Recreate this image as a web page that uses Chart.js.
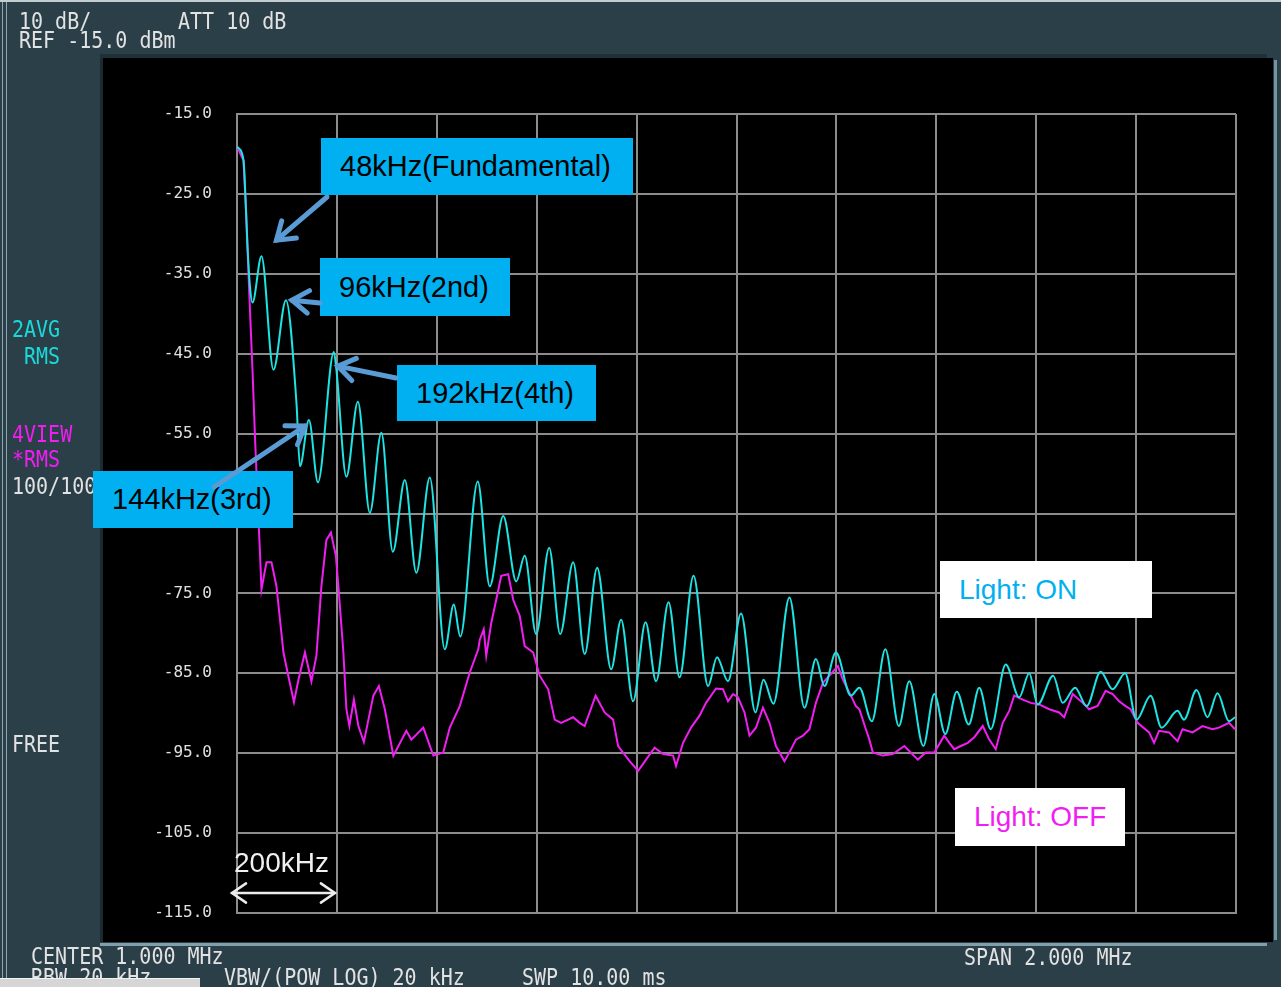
<!DOCTYPE html>
<html>
<head>
<meta charset="utf-8">
<title>Spectrum - Light ON / OFF</title>
<script src="https://cdn.jsdelivr.net/npm/chart.js@4.4.1/dist/chart.umd.min.js"></script>
<style>
  body { margin: 0; background: #2b3f49; }
  #screen { position: relative; width: 1281px; height: 987px; overflow: hidden; background: #2b3f49; }
  .rule { position: absolute; }
  #panel { position: absolute; left: 103px; top: 58px; width: 1170px; height: 884px; background: #000; }
  #chart { position: absolute; left: 0; top: 0; }
  .inst { position: absolute; font: 20px 'DejaVu Sans Mono', monospace; line-height: 20px; color: #e2e2e2;
          white-space: pre; transform: scaleY(1.15); transform-origin: 0 0; }
  .cyan { color: #19dada; }
  .mag { color: #f01ef0; }
  .tag { position: absolute; display: flex; align-items: center; box-sizing: border-box; padding-left: 19px;
         font: 29px 'Liberation Sans', Arial, sans-serif; white-space: nowrap; }
  .blue { background: #00b0f0; color: #000; }
  .white { background: #fff; }
  #marks { position: absolute; left: 0; top: 0; }
</style>
</head>
<body>
<div id="screen">
  <!-- instrument frame -->
  <div class="rule" style="left:0;top:0;width:1281px;height:2px;background:#c3ccd0"></div>
  <div class="rule" style="left:2px;top:2px;width:1px;height:976px;background:#8fa9b2"></div>
  <div class="rule" style="left:6px;top:2px;width:1px;height:976px;background:#8fa9b2"></div>
  <div class="rule" style="left:100px;top:54px;width:1167px;height:4px;background:#1f3038"></div>
  <div class="rule" style="left:100px;top:58px;width:3px;height:884px;background:#1a2a30"></div>
  <div id="panel"></div>
  <div class="rule" style="left:1274px;top:60px;width:3px;height:880px;background:#7395a0"></div>
  <div class="rule" style="left:100px;top:943px;width:1167px;height:3px;background:#7f9faa"></div>

  <canvas id="chart" width="1281" height="987" style="width:1281px;height:987px"></canvas>

  <!-- instrument readouts -->
  <div class="inst" style="left:19px;top:9px">10 dB/</div>
  <div class="inst" style="left:178px;top:9px">ATT 10 dB</div>
  <div class="inst" style="left:19px;top:28px">REF -15.0 dBm</div>
  <div class="inst cyan" style="left:12px;top:317px">2AVG</div>
  <div class="inst cyan" style="left:24px;top:344px">RMS</div>
  <div class="inst mag" style="left:12px;top:422px">4VIEW</div>
  <div class="inst mag" style="left:12px;top:447px">*RMS</div>
  <div class="inst" style="left:12px;top:474px">100/100</div>
  <div class="inst" style="left:12px;top:732px">FREE</div>
  <div class="inst" style="left:31px;top:944px">CENTER 1.000 MHz</div>
  <div class="inst" style="left:964px;top:945px">SPAN 2.000 MHz</div>
  <div class="inst" style="left:31px;top:965px">RBW 20 kHz</div>
  <div class="inst" style="left:224px;top:965px">VBW/(POW LOG) 20 kHz</div>
  <div class="inst" style="left:522px;top:965px">SWP 10.00 ms</div>
  <div class="rule" style="left:0;top:978px;width:200px;height:9px;background:#d6d6d6;border-top:1px solid #f2f2f2"></div>

  <!-- callouts -->
  <div class="tag blue" style="left:321px;top:138px;width:312px;height:57px">48kHz(Fundamental)</div>
  <div class="tag blue" style="left:320px;top:258px;width:190px;height:58px">96kHz(2nd)</div>
  <div class="tag blue" style="left:397px;top:365px;width:199px;height:56px">192kHz(4th)</div>
  <div class="tag blue" style="left:93px;top:471px;width:200px;height:57px">144kHz(3rd)</div>
  <div class="tag white" style="left:940px;top:561px;width:212px;height:57px;color:#00b0f0;font-size:28px">Light: ON</div>
  <div class="tag white" style="left:955px;top:788px;width:170px;height:58px;color:#f01ef0;font-size:28px">Light: OFF</div>
  <div class="tag" style="left:234px;top:845px;height:36px;padding-left:0;color:#f0f0f0;font-size:28px">200kHz</div>

  <svg id="marks" width="1281" height="987"></svg>
</div>

<script>
// frequency in kHz (0 .. 2000 span), level in dBm
const freqOn = [0, 13, 18, 21, 26, 31, 49, 73, 98, 119, 126, 144, 162, 194, 199, 219, 242, 266, 289, 312,
  336, 359, 386, 416, 434, 447, 482, 506, 533, 559, 576, 599, 625, 647, 673, 696, 721, 749, 769, 793,
  818, 839, 864, 886, 914, 943, 961, 983, 1009, 1038, 1054, 1074, 1106, 1136, 1159, 1176, 1199, 1229, 1246, 1271,
  1298, 1325, 1346, 1374, 1396, 1418, 1441, 1465, 1486, 1509, 1539, 1566, 1586, 1603, 1634, 1653, 1678, 1701, 1729, 1753,
  1778, 1801, 1829, 1851, 1883, 1896, 1921, 1943, 1963, 1986, 1998];
const levelOn = [-19.1, -20.8, -27.0, -31.6, -36.6, -38.6, -32.8, -47.0, -38.3, -51.1, -59.1, -53.3, -61.1, -44.8, -47.0, -60.4, -51.0, -64.9, -54.9, -69.8,
  -60.8, -72.4, -60.5, -82.0, -76.4, -80.4, -61.0, -74.1, -65.3, -73.5, -70.3, -80.1, -69.3, -80.1, -71.1, -82.6, -71.8, -84.5, -78.3, -88.5,
  -78.6, -86.0, -76.1, -85.5, -72.8, -86.6, -83.0, -86.0, -77.5, -89.9, -85.8, -88.8, -75.5, -89.3, -83.2, -86.6, -82.4, -87.8, -86.8, -91.0,
  -82.0, -91.6, -86.0, -94.1, -87.6, -92.6, -87.3, -91.4, -86.8, -92.0, -83.9, -88.0, -85.0, -88.9, -85.3, -88.7, -86.8, -89.1, -84.8, -87.0,
  -85.0, -90.8, -87.8, -91.8, -89.7, -90.8, -87.1, -90.5, -87.5, -91.0, -90.5];

const freqOff = [0, 13, 18, 21, 24, 31, 36, 43, 46, 49, 59, 69, 79, 93, 103, 114, 123, 136, 149, 159,
  169, 179, 188, 198, 203, 213, 219, 225, 234, 243, 254, 273, 284, 296, 313, 339, 349, 373, 393, 413,
  426, 446, 466, 483, 486, 494, 499, 509, 519, 529, 543, 553, 566, 576, 593, 606, 623, 636, 649, 673,
  686, 696, 718, 736, 753, 763, 786, 803, 819, 836, 853, 873, 879, 893, 909, 926, 939, 959, 973, 983,
  993, 1003, 1016, 1026, 1039, 1053, 1066, 1079, 1096, 1106, 1119, 1133, 1146, 1159, 1173, 1186, 1203, 1213, 1229, 1239,
  1246, 1259, 1266, 1273, 1293, 1313, 1336, 1363, 1379, 1396, 1416, 1426, 1436, 1449, 1463, 1476, 1493, 1506, 1519, 1533,
  1546, 1556, 1573, 1589, 1606, 1626, 1646, 1656, 1673, 1693, 1706, 1723, 1739, 1753, 1766, 1779, 1789, 1803, 1826, 1836,
  1846, 1866, 1883, 1893, 1913, 1933, 1953, 1966, 1986, 1998];
const levelOff = [-19.1, -20.8, -27.0, -31.6, -36.6, -47.0, -55.4, -65.8, -69.9, -74.5, -71.1, -71.1, -74.1, -82.4, -85.4, -88.6, -85.8, -82.4, -86.0, -82.8,
  -74.1, -68.3, -67.4, -70.3, -74.1, -82.4, -89.5, -91.6, -88.3, -91.6, -93.6, -87.8, -86.6, -89.5, -95.3, -92.2, -93.3, -91.8, -95.3, -94.9,
  -91.8, -89.1, -84.9, -82.0, -80.8, -79.5, -82.8, -78.7, -75.8, -72.8, -72.6, -75.8, -77.8, -81.6, -82.4, -85.3, -87.0, -90.8, -91.2, -90.5,
  -91.2, -91.6, -87.8, -89.9, -90.8, -94.1, -96.0, -97.2, -95.8, -94.3, -95.1, -95.3, -96.6, -93.7, -91.8, -90.3, -88.7, -86.9, -87.0, -88.5,
  -87.6, -88.0, -89.9, -92.8, -91.8, -89.3, -91.2, -94.1, -96.0, -94.9, -93.3, -92.8, -92.0, -88.7, -86.2, -85.3, -84.1, -85.8, -87.8, -89.1,
  -89.5, -92.0, -93.3, -94.9, -95.3, -95.1, -94.1, -95.8, -94.9, -94.9, -92.8, -93.7, -94.5, -94.1, -93.7, -93.0, -91.6, -93.3, -94.5, -91.2,
  -89.7, -87.8, -88.3, -88.7, -88.9, -89.5, -89.9, -90.5, -87.6, -88.7, -89.5, -89.1, -87.2, -87.6, -88.5, -89.1, -89.5, -91.2, -92.4, -93.7,
  -92.2, -92.4, -93.5, -92.0, -92.4, -91.6, -92.0, -91.8, -91.2, -92.0];

// harmonic peaks that get a callout arrow: [kHz, dBm, tip offset x, tip offset y, tail x, tail y]
const harmonicNotes = [
  [49, -32.8, 15, -16, 327, 197],
  [98, -38.3, 6, 0, 320, 303],
  [194, -44.8, 4, 14, 396, 378],
  [144, -53.3, -4, 6, 214, 487]
];

const refLevel = -15;
const bottomLevel = -115;
const dbPerDiv = 10;
const spanKHz = 2000;
const divKHz = 200;

const gridColor = '#8c8c8c';

const toPoints = (xs, ys) => xs.map((x, i) => ({ x: x, y: ys[i] }));

const chart = new Chart(document.getElementById('chart'), {
  type: 'line',
  data: {
    datasets: [
      {
        label: 'Light: ON',
        data: toPoints(freqOn, levelOn),
        borderColor: '#1ee3e3',
        borderWidth: 2,
        pointRadius: 0,
        cubicInterpolationMode: 'monotone'
      },
      {
        label: 'Light: OFF',
        data: toPoints(freqOff, levelOff),
        borderColor: '#f01ef0',
        borderWidth: 2,
        pointRadius: 0,
        tension: 0
      }
    ]
  },
  options: {
    responsive: false,
    animation: false,
    events: [],
    layout: { padding: { left: 103, top: 114, right: 45, bottom: 74 } },
    plugins: { legend: { display: false }, tooltip: { enabled: false } },
    scales: {
      x: {
        type: 'linear',
        min: 0,
        max: spanKHz,
        ticks: { display: false, stepSize: divKHz },
        grid: { color: gridColor, lineWidth: 2, drawTicks: false },
        border: { color: gridColor, width: 2 },
        afterFit: s => { s.height = 0; }
      },
      y: {
        min: bottomLevel,
        max: refLevel,
        ticks: {
          stepSize: dbPerDiv,
          padding: 25,
          color: '#e0e0e0',
          font: { family: 'DejaVu Sans Mono', size: 16 },
          callback: v => v.toFixed(1)
        },
        grid: { color: gridColor, lineWidth: 2, drawTicks: false },
        border: { color: gridColor, width: 2 },
        afterFit: s => { s.width = 134; }
      }
    }
  }
});

// arrows drawn on top of the callout boxes
const svg = document.getElementById('marks');
const NS = 'http://www.w3.org/2000/svg';

function addArrowHead(tx, ty, sx, sy, size, color, width) {
  const a = Math.atan2(ty - sy, tx - sx);
  const spread = 0.6;
  const p1 = [tx - size * Math.cos(a - spread), ty - size * Math.sin(a - spread)];
  const p2 = [tx - size * Math.cos(a + spread), ty - size * Math.sin(a + spread)];
  const head = document.createElementNS(NS, 'polyline');
  head.setAttribute('points', `${p1[0]},${p1[1]} ${tx},${ty} ${p2[0]},${p2[1]}`);
  head.setAttribute('fill', 'none');
  head.setAttribute('stroke', color);
  head.setAttribute('stroke-width', width);
  head.setAttribute('stroke-linecap', 'round');
  svg.appendChild(head);
}

function addArrow(sx, sy, tx, ty, color, width, size, both) {
  const line = document.createElementNS(NS, 'line');
  line.setAttribute('x1', sx); line.setAttribute('y1', sy);
  line.setAttribute('x2', tx); line.setAttribute('y2', ty);
  line.setAttribute('stroke', color);
  line.setAttribute('stroke-width', width);
  line.setAttribute('stroke-linecap', 'round');
  svg.appendChild(line);
  addArrowHead(tx, ty, sx, sy, size, color, width);
  if (both) addArrowHead(sx, sy, tx, ty, size, color, width);
}

const xs = chart.scales.x;
const ys = chart.scales.y;

harmonicNotes.forEach(([f, lvl, dx, dy, sx, sy]) => {
  const tx = xs.getPixelForValue(f) + dx;
  const ty = ys.getPixelForValue(lvl) + dy;
  addArrow(sx, sy, tx, ty, '#5b9bd5', 5, 20, false);
});

// one division marker
addArrow(xs.getPixelForValue(0) - 5, 893, xs.getPixelForValue(divKHz) - 2, 893, '#ececec', 2.5, 17, true);
</script>
</body>
</html>
